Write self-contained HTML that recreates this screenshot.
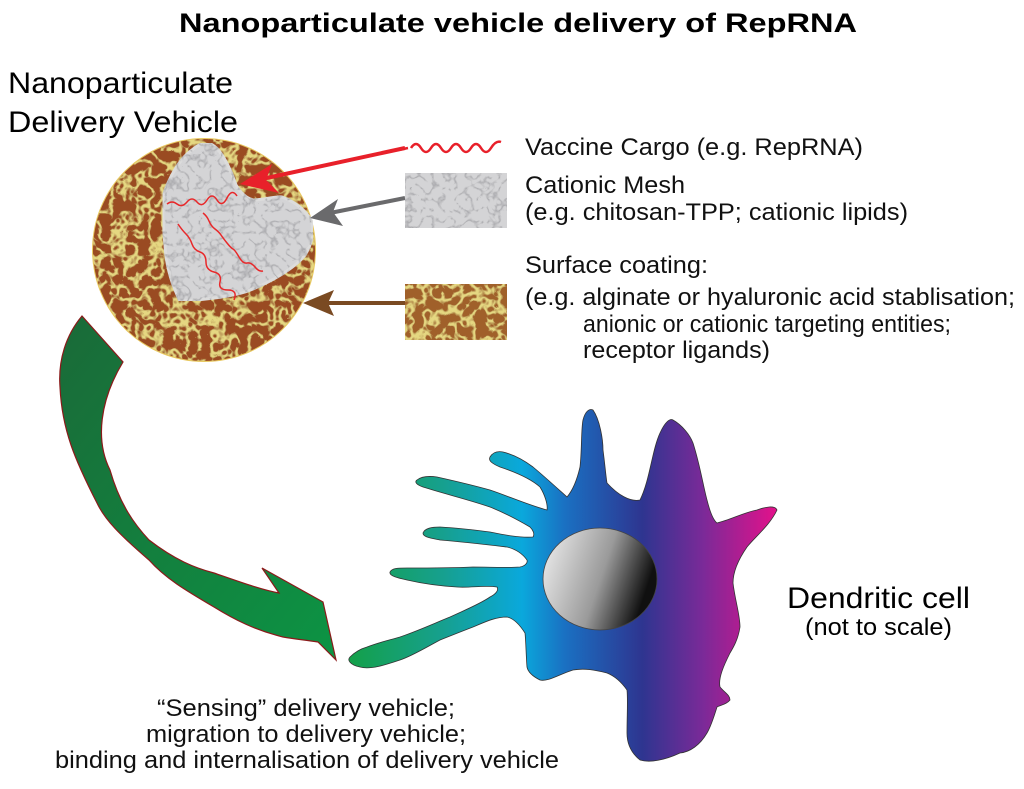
<!DOCTYPE html>
<html><head><meta charset="utf-8"><style>
html,body{margin:0;padding:0;background:#fff;}
svg{display:block;}
text{font-family:"Liberation Sans",Arial,sans-serif;}
</style></head><body>
<svg width="1024" height="789" viewBox="0 0 1024 789" xmlns="http://www.w3.org/2000/svg">
<defs>
  <filter id="brownTex" x="0" y="0" width="100%" height="100%">
    <feTurbulence type="turbulence" baseFrequency="0.08" numOctaves="2" seed="3" result="n"/>
    <feColorMatrix in="n" type="matrix" values="0 0 0 0 0.78  0 0 0 0 0.68  0 0 0 0 0.22  -6 0 0 0 1.5" result="y"/>
    <feComposite in="y" in2="SourceGraphic" operator="in" result="yc"/>
    <feMerge><feMergeNode in="SourceGraphic"/><feMergeNode in="yc"/></feMerge>
  </filter>
  <filter id="grayTex" x="0" y="0" width="100%" height="100%">
    <feTurbulence type="turbulence" baseFrequency="0.09" numOctaves="2" seed="7" result="n"/>
    <feColorMatrix in="n" type="matrix" values="0 0 0 0 0.4  0 0 0 0 0.4  0 0 0 0 0.42  -5 0 0 0 1.0" result="d"/>
    <feComposite in="d" in2="SourceGraphic" operator="in" result="dc"/>
    <feMerge><feMergeNode in="SourceGraphic"/><feMergeNode in="dc"/></feMerge>
  </filter>
  <linearGradient id="cellG" x1="350" y1="0" x2="780" y2="0" gradientUnits="userSpaceOnUse">
    <stop offset="0" stop-color="#14a04a"/>
    <stop offset="0.22" stop-color="#16a090"/>
    <stop offset="0.4" stop-color="#0aa8dc"/>
    <stop offset="0.5" stop-color="#1a70c2"/>
    <stop offset="0.68" stop-color="#2e3590"/>
    <stop offset="0.82" stop-color="#7a2a98"/>
    <stop offset="1" stop-color="#e8108a"/>
  </linearGradient>
  <linearGradient id="nucG" x1="0" y1="0" x2="1" y2="0.3">
    <stop offset="0" stop-color="#f2f2f2"/>
    <stop offset="0.6" stop-color="#9a9a9a"/>
    <stop offset="1" stop-color="#101010"/>
  </linearGradient>
  <linearGradient id="greenG" x1="0" y1="0" x2="1" y2="1">
    <stop offset="0" stop-color="#1a6a38"/>
    <stop offset="1" stop-color="#0c9444"/>
  </linearGradient>
  <clipPath id="sphereClip"><circle cx="204" cy="250" r="111"/></clipPath>
</defs>

<text x="179" y="32" font-weight="bold" font-size="27" textLength="678" lengthAdjust="spacingAndGlyphs">Nanoparticulate vehicle delivery of RepRNA</text>
<text x="8" y="93" font-size="30" textLength="225" lengthAdjust="spacingAndGlyphs">Nanoparticulate</text>
<text x="8" y="132" font-size="30" textLength="230" lengthAdjust="spacingAndGlyphs">Delivery Vehicle</text>

<!-- green curved arrow -->
<path d="M82,316 L123,362 C100,400 95,440 110,470 C120,505 135,525 149,540 C175,560 195,568 214,573 C240,582 262,590 279,593 L262,568 L323,602 L336,660 L318,642 C305,640 295,639 283,637 C255,630 235,620 214,607 C185,590 165,578 149,560 C120,535 105,520 97,503 C75,460 62,430 60,387 C58,360 66,335 82,316 Z" fill="url(#greenG)" stroke="#8a1a1a" stroke-width="1.2"/>

<!-- sphere -->
<circle cx="204" cy="250" r="112" fill="#e8c860"/>
<g clip-path="url(#sphereClip)">
  <rect x="90" y="137" width="230" height="230" fill="#9a4c20" filter="url(#brownTex)"/>
</g>
<!-- heart cutout -->
<path d="M163,197 C168,180 178,160 192,150 C200,143 208,141 214,146 C222,152 230,168 236,185 C240,192 246,198 253,200 C265,200 275,196 282,197 C295,202 306,210 312,222 C314,232 312,244 305,255 C295,268 270,283 245,292 C225,298 200,300 180,301 C172,285 166,265 165,245 C163,225 162,210 163,197 Z" fill="#d4d4d6" stroke="#dcdcdc" stroke-width="3" filter="url(#grayTex)"/>
<g fill="none" stroke="#e8282a" stroke-width="1.5">
  <path d="M167,204 q5,-4 10,0 t10,-2 t10,0 t10,-2 t10,0 t10,-2 t10,-2"/>
  <path d="M203,213 q4,3 6,8 t6,8 t6,6 t6,8 t6,6 t6,8 t8,6 t8,4 t8,4"/>
  <path d="M178,224 q4,6 8,10 t6,10 t8,8 t6,10 t8,10 t6,10 t8,8 t6,10"/>
</g>

<!-- arrows -->
<line x1="405" y1="148" x2="262" y2="179" stroke="#e8202a" stroke-width="4"/>
<path d="M240,184 L272,164 L266,180 L279,193 Z" fill="#e8202a"/>
<line x1="405" y1="198" x2="330" y2="213" stroke="#6a6a6c" stroke-width="4"/>
<path d="M310,218 L338,199 L333,212 L343,226 Z" fill="#6a6a6c"/>
<line x1="405" y1="303" x2="325" y2="303" stroke="#7a4a22" stroke-width="4"/>
<path d="M303,303 L334,290 L328,303 L334,316 Z" fill="#7a4a22"/>

<!-- legend -->
<path d="M398,150 l10,-2 m3,0 q5,-8 10,0 t10,0 t10,0 t10,0 t10,0 t10,0 t10,0 t10,0 t10,-6" fill="none" stroke="#e8202a" stroke-width="2.5"/>
<rect x="405" y="173" width="102" height="55" fill="#d4d4d6" filter="url(#grayTex)"/>
<rect x="405" y="284" width="102" height="56" fill="#a0602a" filter="url(#brownTex)"/>

<g font-size="24" fill="#111">
<text x="525" y="155" textLength="338" lengthAdjust="spacingAndGlyphs">Vaccine Cargo (e.g. RepRNA)</text>
<text x="525" y="193" textLength="160" lengthAdjust="spacingAndGlyphs">Cationic Mesh</text>
<text x="525" y="220" textLength="383" lengthAdjust="spacingAndGlyphs">(e.g. chitosan-TPP; cationic lipids)</text>
<text x="525" y="273" textLength="183" lengthAdjust="spacingAndGlyphs">Surface coating:</text>
<text x="525" y="305" textLength="490" lengthAdjust="spacingAndGlyphs">(e.g. alginate or hyaluronic acid stablisation;</text>
<text x="583" y="332" textLength="368" lengthAdjust="spacingAndGlyphs">anionic or cationic targeting entities;</text>
<text x="583" y="358" textLength="187" lengthAdjust="spacingAndGlyphs">receptor ligands)</text>
</g>

<!-- dendritic cell -->
<path d="M593,410 C600,420 603,440 603,450 C605,465 606,478 607,483 C618,495 630,502 640,500 C650,480 652,450 660,433 C665,422 670,418 673,420 C682,425 690,435 693,443 C700,465 703,485 707,500 C710,512 713,520 717,523 C730,520 745,512 757,510 C765,507 775,505 777,510 C770,525 755,537 747,547 C738,560 733,572 733,583 C735,600 740,615 740,627 C738,640 733,648 730,653 C724,665 718,678 720,687 C724,692 730,695 730,700 C726,705 720,705 717,707 C713,720 710,728 707,733 C700,745 690,752 680,753 C665,760 650,763 640,760 C630,752 627,742 627,733 C627,715 628,700 627,690 C620,680 612,675 607,673 C595,670 585,668 573,670 C560,674 548,682 540,680 C532,676 528,672 527,667 C526,655 526,642 525,633 C518,622 512,618 507,617 C495,617 485,622 473,627 C460,632 450,636 440,640 C425,648 412,656 400,660 C385,665 370,670 360,667 C350,665 347,660 350,657 C355,652 360,649 367,647 C380,642 390,640 400,637 C420,630 435,623 450,617 C465,610 480,604 490,597 C496,594 499,590 497,587 C485,585 470,588 457,587 C440,586 420,583 407,580 C398,578 389,576 390,572 C392,568 398,568 407,568 C430,568 450,568 473,567 C490,567 505,568 520,567 C525,566 528,563 527,560 C522,553 515,549 507,547 C490,545 465,542 440,540 C430,538 423,537 423,533 C425,528 432,527 440,527 C458,528 475,530 490,532 C505,535 520,538 533,537 C535,534 533,530 530,527 C518,520 505,513 490,507 C470,500 445,494 423,487 C417,485 414,482 417,480 C422,476 430,476 437,477 C455,481 472,485 490,490 C508,496 528,505 547,510 C548,505 545,495 540,487 C530,478 515,472 500,467 C493,464 488,461 490,457 C493,452 498,451 503,452 C515,455 525,461 533,467 C545,477 557,488 567,497 C573,490 577,480 580,467 C582,450 581,430 583,420 C585,412 589,408 593,410 Z" fill="url(#cellG)" stroke="#333" stroke-width="0.8"/>
<ellipse cx="600" cy="579" rx="57" ry="51" fill="url(#nucG)" stroke="#444" stroke-width="0.8"/>

<text x="787" y="608" font-size="30" textLength="183" lengthAdjust="spacingAndGlyphs">Dendritic cell</text>
<text x="805" y="635" font-size="24" textLength="147" lengthAdjust="spacingAndGlyphs">(not to scale)</text>

<g font-size="24" fill="#111">
<text x="157" y="716" textLength="298" lengthAdjust="spacingAndGlyphs">“Sensing” delivery vehicle;</text>
<text x="146" y="742" textLength="320" lengthAdjust="spacingAndGlyphs">migration to delivery vehicle;</text>
<text x="55" y="768" textLength="504" lengthAdjust="spacingAndGlyphs">binding and internalisation of delivery vehicle</text>
</g>
</svg>
</body></html>
